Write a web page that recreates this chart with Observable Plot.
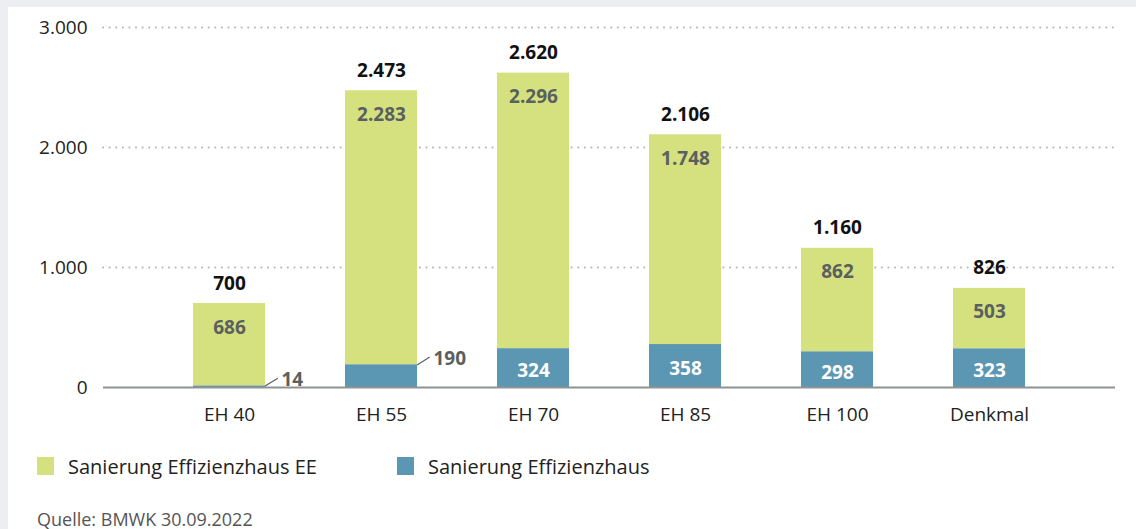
<!DOCTYPE html>
<html>
<head>
<meta charset="utf-8">
<script src="https://cdn.jsdelivr.net/npm/d3@7"></script>
<script src="https://cdn.jsdelivr.net/npm/@observablehq/plot@0.6"></script>
<style>
  html, body { margin: 0; padding: 0; background: #eceef2; width: 1136px; height: 529px; overflow: hidden; }
  #card { position: absolute; left: 8px; top: 7px; width: 1128px; height: 522px; background: #fff; font-family: "Open Sans", sans-serif; }
  #chart { position: absolute; left: 0; top: 0; }
  .legend { position: absolute; top: 446px; left: 0; font-size: 20px; color: #222; }
  .legend .item { position: absolute; white-space: nowrap; display: flex; align-items: center; height: 26px; }
  .legend .sw { width: 17px; height: 18px; display: inline-block; margin-right: 14px; }
  .source { position: absolute; left: 29px; top: 500px; font-size: 18px; color: #555; white-space: nowrap; }
</style>
</head>
<body>
<div id="card">
  <div id="chart"></div>
  <div class="legend" id="legend"></div>
  <div class="source">Quelle: BMWK 30.09.2022</div>
</div>
<script>
const categories = ["EH 40", "EH 55", "EH 70", "EH 85", "EH 100", "Denkmal"];
const eeValues   = [686, 2283, 2296, 1748, 862, 503];      // Sanierung Effizienzhaus EE
const baseValues = [14, 190, 324, 358, 298, 323];          // Sanierung Effizienzhaus
const yTicks = [0, 1000, 2000, 3000];
const seriesNames = ["Sanierung Effizienzhaus EE", "Sanierung Effizienzhaus"];
const seriesColors = ["#d5e07f", "#5b97b3"];
const smallThreshold = 250; // base values too small to hold an inner label

const fmt = d3.formatLocale({decimal: ",", thousands: ".", grouping: [3], currency: ["", "€"]}).format(",d");

const rows = [];
categories.forEach((c, i) => {
  rows.push({cat: c, series: seriesNames[1], value: baseValues[i]});
  rows.push({cat: c, series: seriesNames[0], value: eeValues[i]});
});
const totals = categories.map((c, i) => ({cat: c, total: eeValues[i] + baseValues[i], base: baseValues[i], ee: eeValues[i]}));
const bigBase = totals.filter(d => d.base >= smallThreshold);
const smallBase = totals.filter(d => d.base < smallThreshold);

const leader = {
  draw(context, l) { context.moveTo(0, 0); context.lineTo(0, -l); }
};

const plot = Plot.plot({
  width: 1128,
  height: 440,
  marginLeft: 95,
  marginRight: 21,
  marginTop: 20,
  marginBottom: 60,
  style: {fontFamily: "Open Sans, sans-serif", fontSize: "19px", color: "#222", background: "transparent", overflow: "visible"},
  x: {domain: categories, paddingInner: 0.526, paddingOuter: 0.592, round: false, label: null, tickSize: 0, tickPadding: 20},
  y: {domain: [0, 3000], ticks: yTicks, label: null, tickSize: 0, tickPadding: 16, tickFormat: fmt},
  color: {domain: seriesNames, range: seriesColors},
  marks: [
    Plot.ruleY(yTicks.filter(t => t > 0), {stroke: "#b5b5b5", strokeWidth: 2, strokeDasharray: "0.1,6.5", strokeLinecap: "round"}),
    Plot.barY(rows, Plot.stackY({x: "cat", y: "value", fill: "series", order: seriesNames.slice().reverse()})),
    Plot.ruleY([0], {stroke: "#8f9393", strokeWidth: 2}),
    Plot.text(totals, {x: "cat", y: "total", text: d => fmt(d.total), dy: -20, fontWeight: "bold", fill: "#111", fontSize: 19}),
    Plot.text(totals, {x: "cat", y: "total", text: d => fmt(d.ee), dy: 24, fontWeight: "bold", fill: "#5a5f60", fontSize: 19}),
    Plot.text(bigBase, {x: "cat", y: d => d.base / 2, text: d => fmt(d.base), dy: 3, fontWeight: "bold", fill: "#fff", fontSize: 19}),
    Plot.vector(smallBase, {x: "cat", y: "base", dx: 36, length: 14, rotate: 58, anchor: "start", shape: leader, stroke: "#5a5f60", strokeWidth: 1.2}),
    Plot.text(smallBase, {x: "cat", y: "base", text: d => fmt(d.base), dx: 52, dy: -6, textAnchor: "start", fontWeight: "bold", fill: "#5a5f60", fontSize: 19})
  ]
});
document.getElementById("chart").appendChild(plot);

const legend = document.getElementById("legend");
const legendX = [29, 389];
seriesNames.forEach((s, i) => {
  const item = document.createElement("div");
  item.className = "item";
  item.style.left = legendX[i] + "px";
  const sw = document.createElement("span");
  sw.className = "sw";
  sw.style.background = seriesColors[i];
  item.appendChild(sw);
  item.appendChild(document.createTextNode(s));
  legend.appendChild(item);
});
</script>
</body>
</html>
